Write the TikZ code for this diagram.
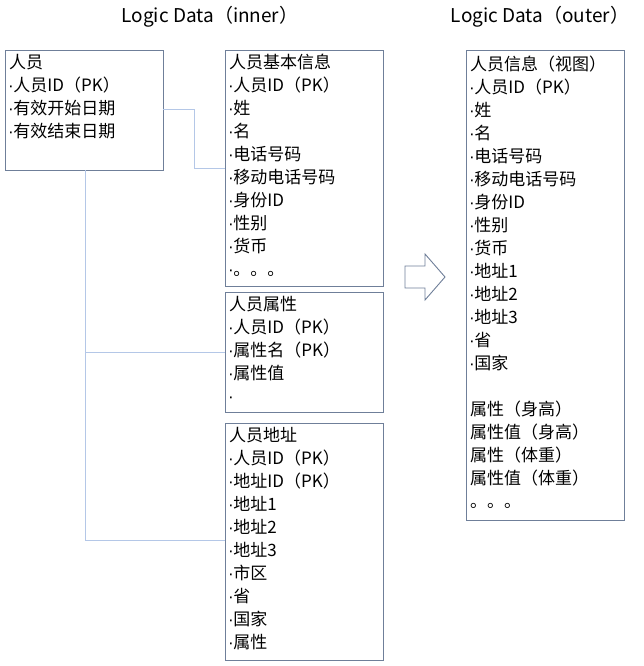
\documentclass[tikz,border=0pt]{standalone}
\usepackage{fontspec}
\setmainfont{Noto Sans CJK SC}
\newfontfamily\latf{Liberation Sans}
\newcommand{\dt}{{\latf\kern-1pt·\kern-0.5pt}}
\definecolor{bx}{HTML}{6F7F99}
\definecolor{ln}{HTML}{B4C7E7}
\tikzset{
 tbl/.style={draw=bx,line width=0.9pt},
 txt/.style={anchor=north west,align=left,inner sep=0pt,font=\fontsize{17}{23}\selectfont},
 conn/.style={draw=ln,line width=1pt},
 ttl/.style={font=\fontsize{19}{22}\selectfont}
}
\begin{document}
\begin{tikzpicture}[x=1pt,y=-1pt]
\useasboundingbox (0,0) rectangle (644,666);
\node[ttl] (t1) at (210,17) {Logic Data（inner）};
\node[ttl] (t2) at (540,17) {Logic Data（outer）};
% boxes
\draw[tbl] (5,50) rectangle (163,170);
\node[txt] (a) at (9,54) {人员\\\dt 人员ID（PK）\\\dt 有效开始日期\\\dt 有效结束日期};
\draw[tbl] (225,50) rectangle (383,286);
\node[txt] (b) at (229,54) {人员基本信息\\\dt 人员ID（PK）\\\dt 姓\\\dt 名\\\dt 电话号码\\\dt 移动电话号码\\\dt 身份ID\\\dt 性别\\\dt 货币\\\dt 。。。};
\draw[tbl] (225,292) rectangle (383,412);
\node[txt] (c) at (229,296) {人员属性\\\dt 人员ID（PK）\\\dt 属性名（PK）\\\dt 属性值\\\dt};
\draw[tbl] (225,423) rectangle (383,660);
\node[txt] (d) at (229,427) {人员地址\\\dt 人员ID（PK）\\\dt 地址ID（PK）\\\dt 地址1\\\dt 地址2\\\dt 地址3\\\dt 市区\\\dt 省\\\dt 国家\\\dt 属性};
\draw[tbl] (466,50) rectangle (624,520);
\node[txt] (e) at (470,56) {人员信息（视图）\\\dt 人员ID（PK）\\\dt 姓\\\dt 名\\\dt 电话号码\\\dt 移动电话号码\\\dt 身份ID\\\dt 性别\\\dt 货币\\\dt 地址1\\\dt 地址2\\\dt 地址3\\\dt 省\\\dt 国家\\[23pt]属性（身高）\\属性值（身高）\\属性（体重）\\属性值（体重）\\。。。};
% connectors
\coordinate (p1) at (163,110);
\coordinate (p2) at (225,168);
\draw[conn] (p1) -- (194,110) -- (194,168) -- (p2);
\coordinate (q0) at (85,170);
\coordinate (q1) at (225,352);
\coordinate (q2) at (225,540);
\draw[conn] (q0) -- (85,540) -- (q2);
\draw[conn] (85,352) -- (q1);
% arrow
\draw[tbl,fill=white] (405,266) -- (425,266) -- (425,254) -- (445,277) -- (425,300) -- (425,288) -- (405,288) -- cycle;
\end{tikzpicture}
\end{document}
